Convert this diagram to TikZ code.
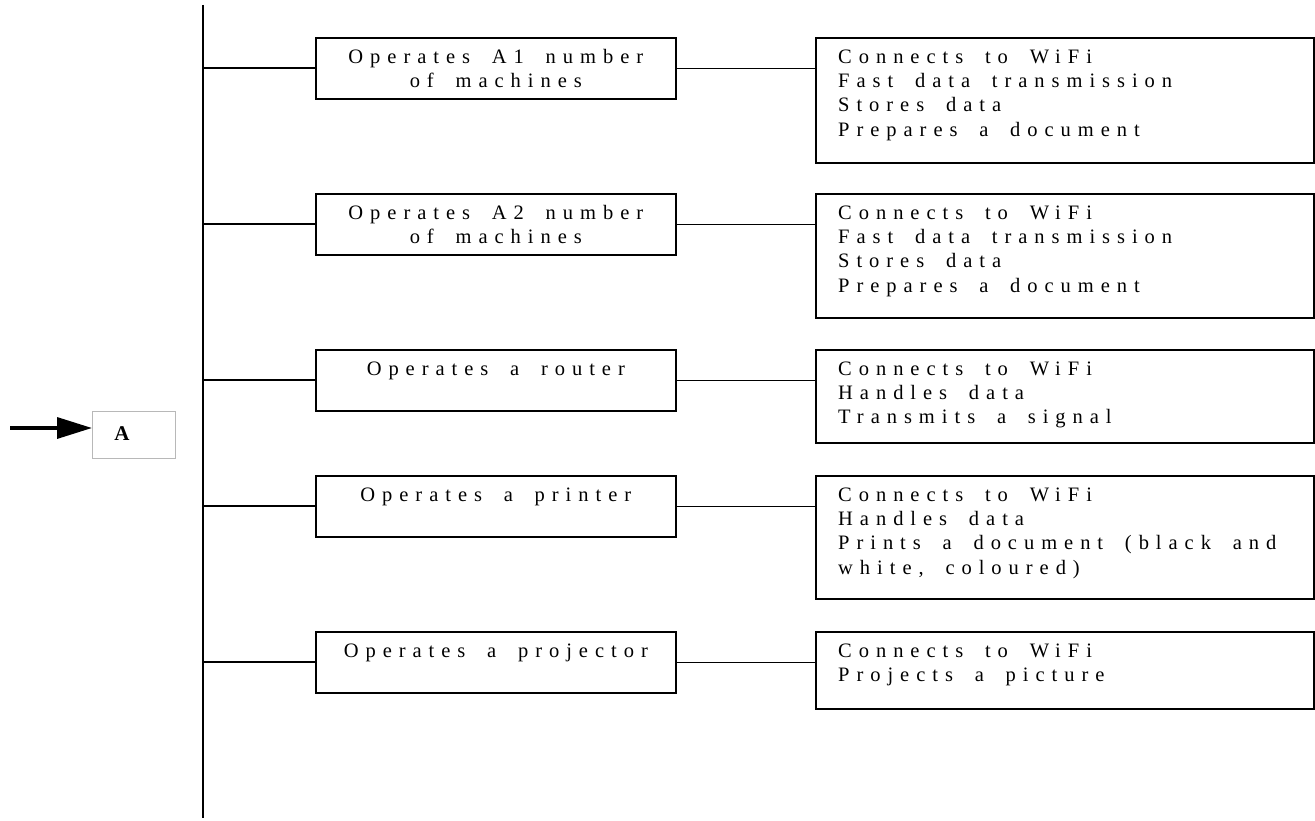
\documentclass[tikz,border=0pt]{standalone}
\usepackage{fontspec}
\setmainfont{Liberation Serif}
\newfontfamily\spacedfont{Liberation Serif}[LetterSpace=34,WordSpace=1.8]
\usetikzlibrary{arrows.meta}
\newcommand{\topstrut}{\rule{0pt}{16pt}}
\tikzset{
  x=1pt,y=-1pt,
  boxshape/.style={draw,line width=1.6pt,rectangle,inner sep=0pt,anchor=north west},
  midbox/.style={boxshape,minimum width=360pt,minimum height=61pt},
  txt/.style={inner sep=0pt,font=\spacedfont\fontsize{20.5}{24.3}\selectfont},
  conn/.style={line width=1.5pt},
}
\begin{document}
\begin{tikzpicture}
\useasboundingbox (0,0) rectangle (1315,821);
% spine
\coordinate (top) at (203,5);
\coordinate (bot) at (203,818);
\draw[line width=2.4pt] (top) -- (bot);
% A box
\node[draw=black!28,line width=0.9pt,anchor=north west,minimum width=83pt,minimum height=47pt,inner sep=0pt] (abox) at (92,411) {};
\node[inner sep=0pt,font=\bfseries\fontsize{21}{22}\selectfont] (alab) at (122,434) {A};
\coordinate (astart) at (10,428);
\draw[line width=3.4pt,-{Triangle[length=35pt,width=21pt]}] (astart) -- (abox.west |- astart);
% rows
\foreach \i/\yt/\hr in {1/37/125,2/193/124,3/349/93,4/475/123,5/631/77}{
  \node[midbox] (m\i) at (315,\yt) {};
  \node[boxshape,minimum width=498pt,minimum height=\hr pt] (r\i) at (815,\yt) {};
  \coordinate (s\i) at (203,\yt+31);
  \draw[conn] (s\i) -- (s\i -| m\i.west);
  \draw[conn] (m\i.east) -- (m\i.east -| r\i.west);
}
% middle texts
\node[txt,align=center,anchor=north] (mt1) at ([yshift=-10pt]m1.north) {\topstrut Operates A1 number\\of machines};
\node[txt,align=center,anchor=north] (mt2) at ([yshift=-10pt]m2.north) {\topstrut Operates A2 number\\of machines};
\node[txt,align=center,anchor=north] (mt3) at ([yshift=-10pt]m3.north) {\topstrut Operates a router};
\node[txt,align=center,anchor=north] (mt4) at ([yshift=-10pt]m4.north) {\topstrut Operates a printer};
\node[txt,align=center,anchor=north] (mt5) at ([yshift=-10pt]m5.north) {\topstrut Operates a projector};
% right texts
\node[txt,align=left,anchor=north west] (rt1) at ([xshift=23pt,yshift=-10pt]r1.north west) {\topstrut Connects to WiFi\\Fast data transmission\\Stores data\\Prepares a document};
\node[txt,align=left,anchor=north west] (rt2) at ([xshift=23pt,yshift=-10pt]r2.north west) {\topstrut Connects to WiFi\\Fast data transmission\\Stores data\\Prepares a document};
\node[txt,align=left,anchor=north west] (rt3) at ([xshift=23pt,yshift=-10pt]r3.north west) {\topstrut Connects to WiFi\\Handles data\\Transmits a signal};
\node[txt,align=left,anchor=north west] (rt4) at ([xshift=23pt,yshift=-10pt]r4.north west) {\topstrut Connects to WiFi\\Handles data\\Prints a document (black and\\white, coloured)};
\node[txt,align=left,anchor=north west] (rt5) at ([xshift=23pt,yshift=-10pt]r5.north west) {\topstrut Connects to WiFi\\Projects a picture};
\end{tikzpicture}
\end{document}
